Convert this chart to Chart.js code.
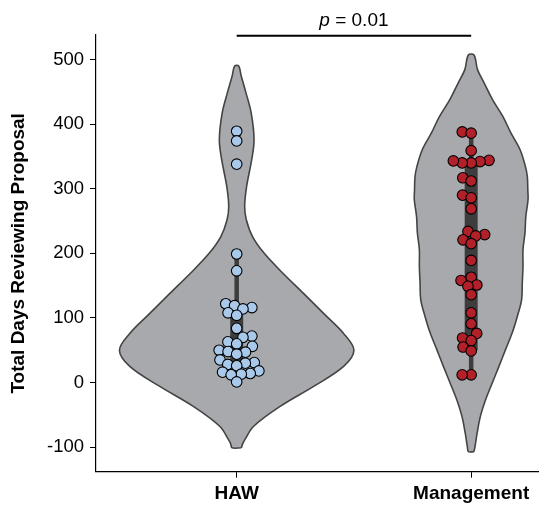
<!DOCTYPE html>
<html><head><meta charset="utf-8">
<script src="https://cdn.jsdelivr.net/npm/chart.js@4.4.1/dist/chart.umd.min.js"></script>
<style>html,body{margin:0;padding:0;background:#fff;}#wrap{width:547px;height:505px;}</style>
</head><body><div id="wrap"><canvas id="c" width="547" height="505"></canvas></div>
<script>
// ---- data ----
const categories = ['HAW', 'Management'];
const hawValues = [389, 374, 338, 199, 173, 122, 119, 116, 114, 108, 104, 84, 72, 70, 63, 60, 56, 50, 48, 47, 44, 35, 31, 30, 28, 26, 18, 16, 14, 13, 12, 1];
const mgmtValues = [388, 386, 359, 344, 342, 340, 340, 343, 317, 312, 290, 286, 269, 234, 229, 227, 221, 215, 189, 163, 158, 151, 149, 136, 108, 91, 76, 69, 65, 55, 49, 12, 12];
const yTickValues = [-100, 0, 100, 200, 300, 400, 500];
// violin outline: value positions and relative density (HAW peak = 1)
const hawProfileValues  = [-101, -95, -88, -68, -37, -6, 25, 50, 76, 107, 138, 170, 200, 226, 252, 273, 304, 345, 376, 417, 448, 475, 490];
const hawProfileDensity = [0.040, 0.051, 0.071, 0.143, 0.370, 0.656, 0.912, 1.0, 0.912, 0.741, 0.570, 0.390, 0.235, 0.135, 0.082, 0.068, 0.085, 0.128, 0.148, 0.124, 0.080, 0.038, 0.017];
const mgmtProfileValues  = [-107, -100, -78, -52, -27, -1, 25, 51, 77, 102, 128, 154, 180, 206, 232, 257, 283, 299, 319, 335, 360, 386, 412, 438, 464, 484, 507];
const mgmtProfileDensity = [0.024, 0.032, 0.051, 0.079, 0.122, 0.179, 0.237, 0.293, 0.350, 0.393, 0.430, 0.436, 0.442, 0.442, 0.459, 0.466, 0.485, 0.483, 0.479, 0.462, 0.418, 0.340, 0.270, 0.182, 0.110, 0.055, 0.024];
const boxRanges = [[30, 114], [50, 338]];
const whiskerRanges = [[1, 199], [12, 388]];
const pValueText = ['p', ' = 0.01'];

// ---- styles ----
const FONT = "'Liberation Sans', Arial, Helvetica, sans-serif";
const violinScale = 0.5;
const violinFill = '#a7a9ac';
const violinEdge = '#444444';
const innerColor = '#3d3d3d';
const pointColors = ['#a9c9ea', '#b2202a'];
const swarmSpacing = 9;

function violinPath(center, vals, dens) {
  const right = vals.map((v, i) => ({x: center + dens[i] * violinScale, y: v}));
  const left = vals.map((v, i) => ({x: center - dens[i] * violinScale, y: v})).reverse();
  return right.concat(left, [right[0]]);
}

const groups = [hawValues, mgmtValues];
const profiles = [[hawProfileValues, hawProfileDensity], [mgmtProfileValues, mgmtProfileDensity]];
const datasets = [];
groups.forEach((vals, g) => {
  const c = g + 1;
  datasets.push({
    type: 'scatter', data: vals.map(v => ({x: c, y: v})),
    backgroundColor: pointColors[g], borderColor: '#000', borderWidth: 1.1,
    pointRadius: 5.3, showLine: false, order: 0
  });
  datasets.push({
    type: 'line', data: [{x: c, y: boxRanges[g][0]}, {x: c, y: boxRanges[g][1]}],
    borderColor: innerColor, borderWidth: 13, pointRadius: 0, borderCapStyle: 'butt', fill: false, order: 1
  });
  datasets.push({
    type: 'line', data: [{x: c, y: whiskerRanges[g][0]}, {x: c, y: whiskerRanges[g][1]}],
    borderColor: innerColor, borderWidth: 4.5, pointRadius: 0, borderCapStyle: 'butt', fill: false, order: 2
  });
  datasets.push({
    type: 'line', data: violinPath(c, profiles[g][0], profiles[g][1]),
    borderColor: violinEdge, backgroundColor: violinFill, borderWidth: 1.6,
    pointRadius: 0, tension: 0.35, fill: 'shape', order: 3
  });
});

const pPlugin = {
  id: 'pvalue',
  afterDraw(chart) {
    const {ctx, scales} = chart;
    const x1 = scales.x.getPixelForValue(1), x2 = scales.x.getPixelForValue(2);
    const y = scales.y.getPixelForValue(537);
    ctx.save();
    ctx.strokeStyle = '#000'; ctx.lineWidth = 2;
    ctx.beginPath(); ctx.moveTo(x1, y); ctx.lineTo(x2, y); ctx.stroke();
    ctx.fillStyle = '#000'; ctx.textBaseline = 'alphabetic';
    const f1 = "italic 19px " + FONT, f2 = "19px " + FONT;
    ctx.font = f1; const w1 = ctx.measureText(pValueText[0]).width;
    ctx.font = f2; const w2 = ctx.measureText(pValueText[1]).width;
    let sx = (x1 + x2) / 2 - (w1 + w2) / 2;
    const by = y - 10;
    ctx.font = f1; ctx.fillText(pValueText[0], sx, by);
    ctx.font = f2; ctx.fillText(pValueText[1], sx + w1, by);
    ctx.restore();
  }
};

const chart = new Chart(document.getElementById('c'), {
  data: {datasets},
  options: {
    responsive: false, animation: false, events: [],
    layout: {padding: {left: 0, top: 35, right: 9, bottom: 0}},
    plugins: {legend: {display: false}, tooltip: {enabled: false}},
    scales: {
      x: {
        type: 'linear', min: 0.4, max: 2.285,
        afterBuildTicks: s => { s.ticks = [{value: 1}, {value: 2}]; },
        afterFit: s => { s.height = 33.3; },
        ticks: {callback: v => categories[v - 1], color: '#000', font: {family: FONT, size: 19, weight: 'bold'}, padding: 5, autoSkip: false, maxRotation: 0},
        grid: {drawOnChartArea: false, drawTicks: true, tickLength: 6, color: '#000', lineWidth: 1},
        border: {display: true, color: '#000', width: 1.2}
      },
      y: {
        type: 'linear', min: -138, max: 538,
        afterBuildTicks: s => { s.ticks = yTickValues.map(v => ({value: v})); },
        afterFit: s => { s.width = 96; },
        ticks: {color: '#000', font: {family: FONT, size: 18.5}, padding: 6},
        grid: {drawOnChartArea: false, drawTicks: true, tickLength: 6, color: '#000', lineWidth: 1},
        border: {display: true, color: '#000', width: 1.2},
        title: {display: true, text: 'Total Days Reviewing Proposal', color: '#000', font: {family: FONT, size: 19, weight: 'bold'}, padding: {top: 7, bottom: 0}}
      }
    }
  },
  plugins: [pPlugin]
});

// beeswarm layout in pixel space (seaborn-like)
function swarmOffsets(values, yScale, d) {
  const pts = values.map((v, i) => ({i, v, y: yScale.getPixelForValue(v)}));
  pts.sort((a, b) => a.v - b.v);
  const placed = [], out = new Array(values.length);
  for (const p of pts) {
    const nb = placed.filter(q => Math.abs(q.y - p.y) < d);
    const cands = [0];
    nb.forEach((q, k) => {
      const dx = Math.sqrt(d * d - (q.y - p.y) ** 2);
      if (k % 2 === 0) cands.push(q.x - dx, q.x + dx); else cands.push(q.x + dx, q.x - dx);
    });
    const order = cands.map((c, k) => [Math.abs(c), k, c]).sort((a, b) => a[0] - b[0] || a[1] - b[1]);
    let chosen = 0;
    for (const [, , c] of order) {
      if (nb.every(q => (q.x - c) ** 2 + (q.y - p.y) ** 2 >= d * d - 1e-6)) { chosen = c; break; }
    }
    placed.push({x: chosen, y: p.y});
    out[p.i] = chosen;
  }
  return out;
}
const xs = chart.scales.x, ys = chart.scales.y;
groups.forEach((vals, g) => {
  const cpx = xs.getPixelForValue(g + 1);
  const offs = swarmOffsets(vals, ys, swarmSpacing);
  chart.data.datasets[g * 4].data = vals.map((v, i) => ({x: xs.getValueForPixel(cpx + offs[i]), y: v}));
});
chart.update('none');
</script></body></html>
